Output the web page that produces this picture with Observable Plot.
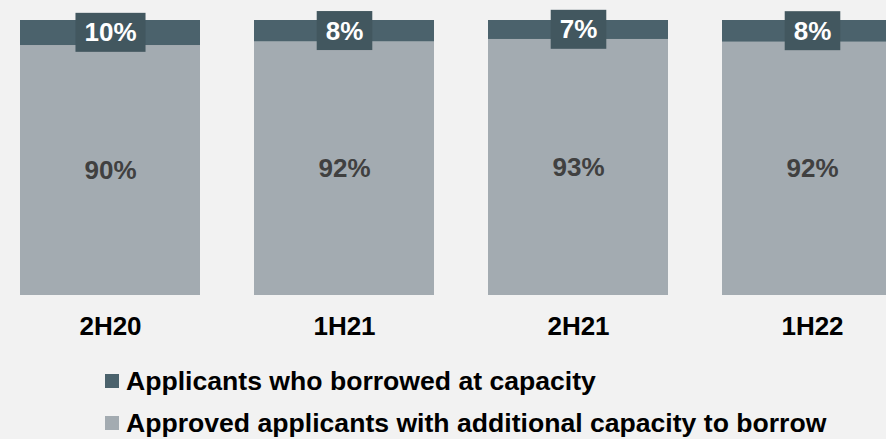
<!DOCTYPE html>
<html>
<head>
<meta charset="utf-8">
<script src="https://cdn.jsdelivr.net/npm/d3@7"></script>
<script src="https://cdn.jsdelivr.net/npm/@observablehq/plot@0.6"></script>
<style>
  html, body { margin: 0; padding: 0; background: #f2f2f2; }
  body { width: 886px; height: 439px; overflow: hidden; font-family: "Liberation Sans", Arial, sans-serif; }
  #legend { margin-top: 10px; padding-left: 105px; }
  .row { height: 42px; display: flex; align-items: center; font-size: 26.6px; font-weight: bold; color: #000; white-space: nowrap; }
  .sw { width: 14px; height: 14px; margin-right: 7px; flex: none; }
</style>
</head>
<body>
<div id="chart"></div>
<div id="legend"></div>
<script>
const periods = ["2H20", "1H21", "2H21", "1H22"];
const atCapacity = [9.1, 7.8, 6.9, 7.9];
const withCapacity = [90.9, 92.2, 93.1, 92.1];
const atCapacityLabels = ["10%", "8%", "7%", "8%"];
const withCapacityLabels = ["90%", "92%", "93%", "92%"];
const seriesNames = ["Applicants who borrowed at capacity", "Approved applicants with additional capacity to borrow"];
const seriesColors = ["#4b626c", "#a3abb1"];
const boxColor = "#42575f";

const rows = periods.map((p, i) => ({
  period: p,
  cap: atCapacity[i],
  other: withCapacity[i],
  capLabel: atCapacityLabels[i],
  otherLabel: withCapacityLabels[i]
}));

const plot = Plot.plot({
  width: 886,
  height: 350,
  marginTop: 20,
  marginBottom: 55,
  marginLeft: 0,
  marginRight: 0,
  style: { background: "#f2f2f2", fontFamily: "'Liberation Sans', Arial, sans-serif", fontSize: "26px", fontWeight: "bold", color: "#000", overflow: "hidden" },
  x: { type: "band", domain: periods, range: [-34.7, 957.7], padding: 0.229 },
  y: { domain: [0, 100], axis: null },
  marks: [
    Plot.barY(rows, { x: "period", y1: 0, y2: "other", fill: seriesColors[1] }),
    Plot.barY(rows, { x: "period", y1: "other", y2: d => d.other + d.cap, fill: seriesColors[0] }),
    Plot.text(rows, { x: "period", y: d => d.other / 2, text: "otherLabel", fill: "#404040", fontSize: 26, fontWeight: "bold" }),
    Plot.text(rows, { x: "period", y: d => d.other + d.cap / 2, text: "capLabel", fill: "#ffffff", fontSize: 26, fontWeight: "bold" }),
    Plot.axisX({ tickSize: 0, tickPadding: 21, fontSize: 26, fontWeight: "bold", fill: "#000", label: null })
  ]
});

document.getElementById("chart").appendChild(plot);

// dark boxes behind the white top labels, sized from the rendered text
const whiteTexts = Array.from(plot.querySelectorAll("text")).filter(t => {
  const f = getComputedStyle(t).fill;
  return f === "rgb(255, 255, 255)" || f === "#ffffff" || f === "white";
});
whiteTexts.forEach(t => {
  const b = t.getBBox();
  const cx = b.x + b.width / 2;
  const cy = b.y + b.height / 2;
  const w = b.width + 18, h = 39;
  const r = document.createElementNS("http://www.w3.org/2000/svg", "rect");
  r.setAttribute("x", cx - w / 2);
  r.setAttribute("y", cy - h / 2);
  r.setAttribute("width", w);
  r.setAttribute("height", h);
  r.setAttribute("fill", boxColor);
  const tr = t.getAttribute("transform");
  if (tr) r.setAttribute("transform", tr);
  t.parentNode.insertBefore(r, t);
});

const legend = document.getElementById("legend");
seriesNames.forEach((name, i) => {
  const row = document.createElement("div");
  row.className = "row";
  const sw = document.createElement("span");
  sw.className = "sw";
  sw.style.background = seriesColors[i];
  const tx = document.createElement("span");
  tx.textContent = name;
  row.appendChild(sw);
  row.appendChild(tx);
  legend.appendChild(row);
});
</script>
</body>
</html>
